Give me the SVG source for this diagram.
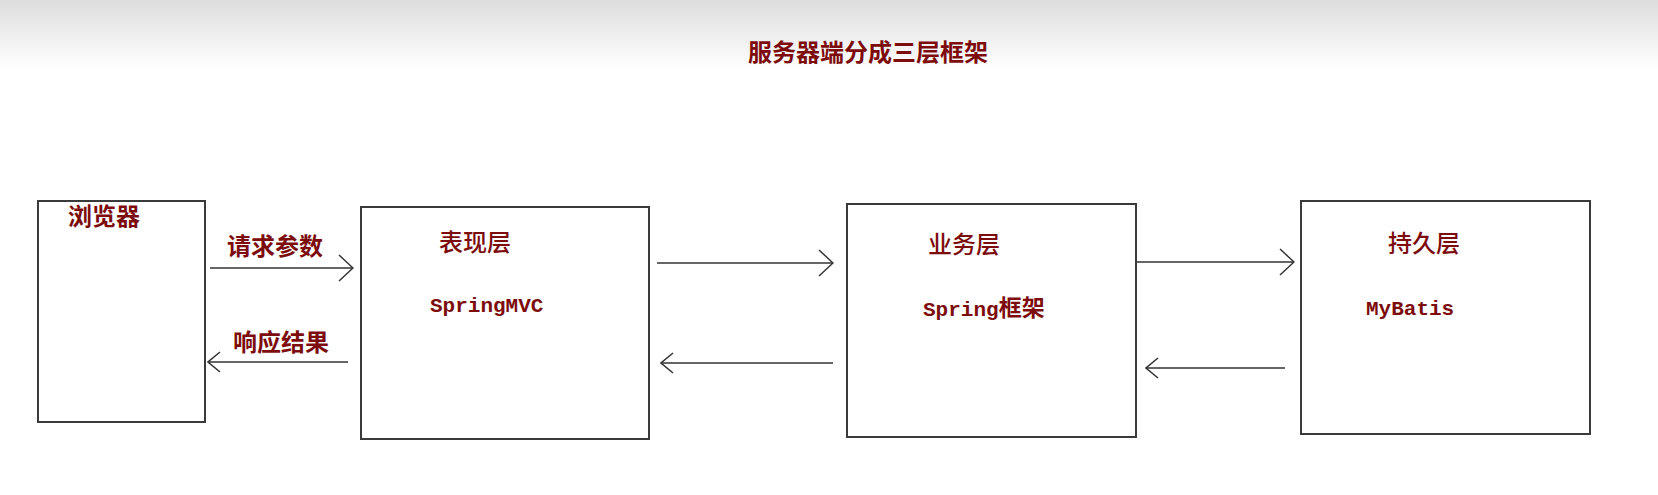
<svg xmlns="http://www.w3.org/2000/svg" width="1658" height="495" viewBox="0 0 1658 495">
<defs>
<linearGradient id="bg" x1="0" y1="0" x2="0" y2="1">
<stop offset="0" stop-color="#dcdcdc"/>
<stop offset="1" stop-color="#ffffff"/>
</linearGradient>
<marker id="chev" viewBox="0 0 16 28" refX="15" refY="14" markerWidth="16" markerHeight="28" markerUnits="userSpaceOnUse" orient="auto">
<path d="M1,1 L15,14 L1,27" fill="none" stroke="#333" stroke-width="1.5"/>
</marker>
<marker id="chevs" viewBox="0 0 14 22" refX="13" refY="11" markerWidth="14" markerHeight="22" markerUnits="userSpaceOnUse" orient="auto">
<path d="M1,1 L13,11 L1,21" fill="none" stroke="#333" stroke-width="1.5"/>
</marker>
</defs>
<style>
.box{fill:#fff;stroke:#3a3a3a;stroke-width:2}
.cjk{font-family:"Noto Sans CJK SC","Noto Sans CJK TC",sans-serif;font-size:24px;fill:#7d0c0c}
.b{font-weight:bold}
.m{font-weight:500}
.mono{font-family:"Liberation Mono","Noto Sans CJK SC",monospace;font-size:21px;font-weight:bold;fill:#7d0c0c}
.conn line{stroke:#333;stroke-width:1.6}
</style>
<rect x="0" y="0" width="1658" height="495" fill="#fff"/>
<rect x="0" y="0" width="1658" height="70" fill="url(#bg)"/>
<text class="cjk b" x="748" y="61">服务器端分成三层框架</text>

<g id="browser">
<rect class="box" x="38" y="201" width="167" height="221"/>
<text class="cjk b" x="68" y="225">浏览器</text>
</g>
<g id="presentation">
<rect class="box" x="361" y="207" width="288" height="232"/>
<text class="cjk m" x="439" y="251">表现层</text>
<text class="mono" x="430" y="312">SpringMVC</text>
</g>
<g id="business">
<rect class="box" x="847" y="204" width="289" height="233"/>
<text class="cjk m" x="928" y="253">业务层</text>
<text class="mono" x="923" y="316">Spring<tspan font-size="23">框架</tspan></text>
</g>
<g id="persistence">
<rect class="box" x="1301" y="201" width="289" height="233"/>
<text class="cjk m" x="1388" y="252">持久层</text>
<text class="mono" x="1366" y="315">MyBatis</text>
</g>

<g class="conn">
<line x1="210" y1="268" x2="353" y2="268" marker-end="url(#chev)"/>
<line x1="348" y1="362" x2="208" y2="362" marker-end="url(#chevs)"/>
<line x1="657" y1="263" x2="833" y2="263" marker-end="url(#chev)"/>
<line x1="833" y1="363" x2="661" y2="363" marker-end="url(#chevs)"/>
<line x1="1137" y1="262" x2="1294" y2="262" marker-end="url(#chev)"/>
<line x1="1285" y1="368" x2="1146" y2="368" marker-end="url(#chevs)"/>
</g>
<g id="labels">
<text class="cjk b" x="227" y="255">请求参数</text>
<text class="cjk b" x="233" y="351">响应结果</text>
</g>
</svg>
